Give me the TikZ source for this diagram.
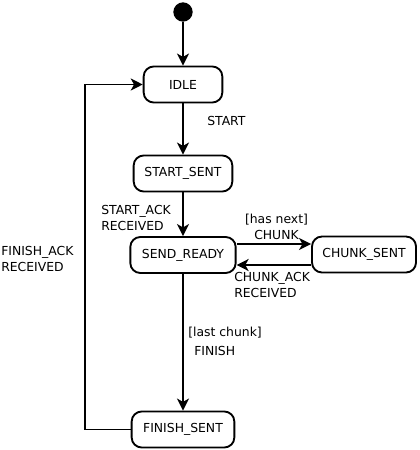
\documentclass[tikz,border=0pt]{standalone}
\usepackage{fontspec}
\setmainfont{DejaVu Sans}
\usetikzlibrary{arrows.meta}
\begin{document}
\begin{tikzpicture}[x=0.75pt,y=-0.75pt,
  every node/.style={font=\fontsize{9.3}{12}\selectfont},
  state/.style={draw,line width=1.4pt,rounded corners=7.5pt,minimum height=27pt,inner sep=0pt},
  trans/.style={line width=1.4pt,-{Stealth[length=9pt,width=9pt,inset=2.5pt]}},
  lbl/.style={inner sep=0pt,align=left}]
\useasboundingbox (0,0) rectangle (419,450);
\node[circle,fill=black,minimum size=14.5pt,inner sep=0pt] (init) at (183,12) {};
\node[state,minimum width=59pt] (idle) at (183,84.5) {IDLE};
\node[state,minimum width=74pt] (ss) at (183,173.5) {START\_SENT};
\node[state,minimum width=79pt] (sr) at (183,255) {SEND\_READY};
\node[state,minimum width=78pt] (cs) at (364,254.5) {CHUNK\_SENT};
\node[state,minimum width=77pt] (fs) at (183,429.5) {FINISH\_SENT};
\draw[trans] (init) -- (idle);
\draw[trans] (idle) -- (ss);
\draw[trans] (ss) -- (sr);
\draw[trans] (sr.east |- 0,244) -- (cs.west |- 0,244);
\draw[trans] (cs.west |- 0,265) -- (sr.east |- 0,265);
\draw[trans] (sr) -- (fs);
\coordinate (c1) at (85,429.5);
\coordinate (c2) at (85,84.5);
\draw[trans] (fs.west) -- (c1) -- (c2) -- (idle.west);
\node[lbl,anchor=west] (l1) at (207,121) {START};
\node[lbl,anchor=west] (l2) at (101,217.5) {START\_ACK\\RECEIVED};
\node[lbl,align=center] (l3) at (276.5,226.5) {[has next]\\CHUNK};
\node[lbl,anchor=west] (l4) at (234,284.5) {CHUNK\_ACK\\RECEIVED};
\node[lbl,anchor=west] (l5) at (188,333) {[last chunk]};
\node[lbl,anchor=west] (l6) at (194,350.5) {FINISH};
\node[lbl,anchor=west] (l7) at (1,258.5) {FINISH\_ACK\\RECEIVED};
\end{tikzpicture}
\end{document}
